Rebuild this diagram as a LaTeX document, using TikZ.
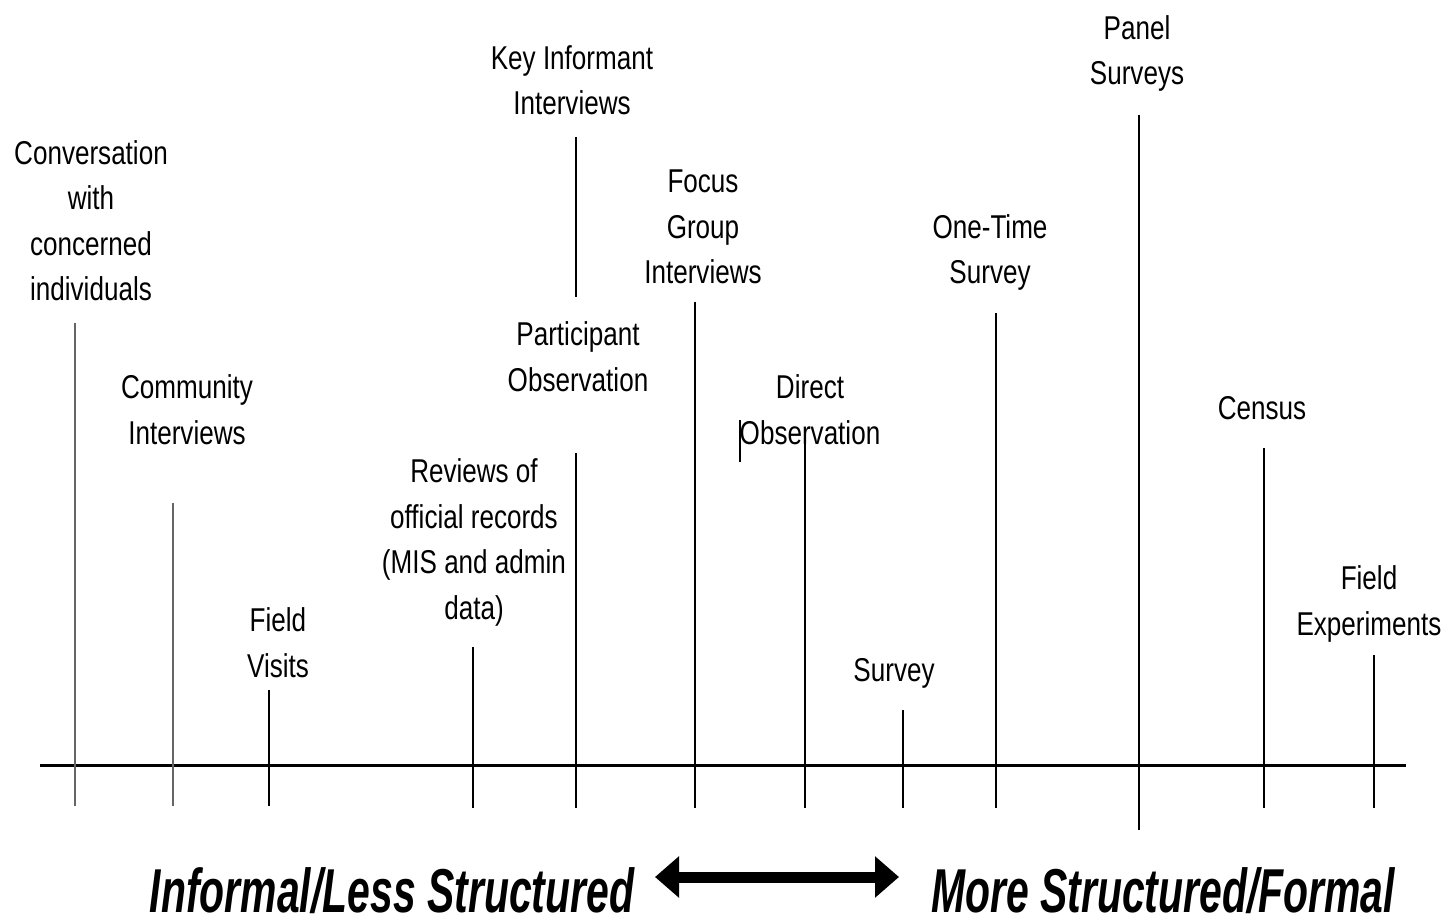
\documentclass[tikz,border=0pt]{standalone}
\usepackage{fontspec}
\setmainfont{Liberation Sans}[FakeStretch=0.79]
\newfontfamily\bigfont{Liberation Sans}[FakeStretch=0.66]
\usetikzlibrary{arrows.meta}
\begin{document}
\begin{tikzpicture}[x=1pt,y=-1pt,
  lbl/.style={align=center,anchor=base,inner sep=0pt,font=\fontsize{33}{45.5}\selectfont},
  big/.style={anchor=base,inner sep=0pt,font=\bigfont\fontsize{62}{62}\selectfont\bfseries\itshape},
  tick/.style={line width=2.4pt,black},
  gtick/.style={line width=2.4pt,black!60},
  axis/.style={line width=3pt,black}]
\useasboundingbox (0,0) rectangle (1446,917);
\fill[white] (0,0) rectangle (1446,917);
% axis
\coordinate (axL) at (40,765);
\coordinate (axR) at (1406,765);
\draw[axis] (axL) -- (axR);
% tick coordinates
\coordinate (t1) at (75,323);   \coordinate (b1) at (75,806);
\coordinate (t2) at (173,503);  \coordinate (b2) at (173,806);
\coordinate (t3) at (269,690);  \coordinate (b3) at (269,806);
\coordinate (t4) at (473,647);  \coordinate (b4) at (473,808);
\coordinate (t5a) at (576,137); \coordinate (b5a) at (576,297);
\coordinate (t5) at (576,453);  \coordinate (b5) at (576,808);
\coordinate (t6) at (695,302);  \coordinate (b6) at (695,808);
\coordinate (t7) at (805,430);  \coordinate (b7) at (805,808);
\coordinate (t8) at (903,710);  \coordinate (b8) at (903,808);
\coordinate (t9) at (996,313);  \coordinate (b9) at (996,808);
\coordinate (t10) at (1139,115); \coordinate (b10) at (1139,830);
\coordinate (t11) at (1264,448); \coordinate (b11) at (1264,808);
\coordinate (t12) at (1374,655); \coordinate (b12) at (1374,808);
\coordinate (s1) at (740,420);  \coordinate (s2) at (740,462);
\draw[gtick] (t1) -- (b1);
\draw[gtick] (t2) -- (b2);
\draw[tick] (t3) -- (b3);
\draw[tick] (t4) -- (b4);
\draw[tick] (t5a) -- (b5a);
\draw[tick] (t5) -- (b5);
\draw[tick] (t6) -- (b6);
\draw[tick] (t7) -- (b7);
\draw[tick] (t8) -- (b8);
\draw[tick] (t9) -- (b9);
\draw[tick] (t10) -- (b10);
\draw[tick] (t11) -- (b11);
\draw[tick] (t12) -- (b12);
\draw[line width=1.6pt] (s1) -- (s2);
% labels (anchor = baseline of last line)
\node[lbl] (conv) at (91,301) {Conversation\\with\\concerned\\individuals};
\node[lbl] (comm) at (187,444) {Community\\Interviews};
\node[lbl] (field) at (278,677) {Field\\Visits};
\node[lbl] (rev) at (474,619) {Reviews of\\official records\\(MIS and admin\\data)};
\node[lbl] (key) at (572,115) {Key Informant\\Interviews};
\node[lbl] (part) at (578,391) {Participant\\Observation};
\node[lbl] (focus) at (703,284) {Focus\\Group\\Interviews};
\node[lbl] (direct) at (810,444) {Direct\\Observation};
\node[lbl] (one) at (990,284) {One-Time\\Survey};
\node[lbl] (panel) at (1137,85) {Panel\\Surveys};
\node[lbl] (census) at (1262,419) {Census};
\node[lbl] (survey) at (894,681) {Survey};
\node[lbl] (fexp) at (1369,635) {Field\\Experiments};
% bottom
\node[big] (inf) at (392,912) {Informal/Less Structured};
\node[big] (more) at (1163,912) {More Structured/Formal};
\coordinate (aL) at (655,877);
\coordinate (aR) at (899,877);
\draw[line width=11pt,{Triangle[length=24pt,width=40pt]}-{Triangle[length=24pt,width=40pt]}] (aL) -- (aR);
\end{tikzpicture}
\end{document}
